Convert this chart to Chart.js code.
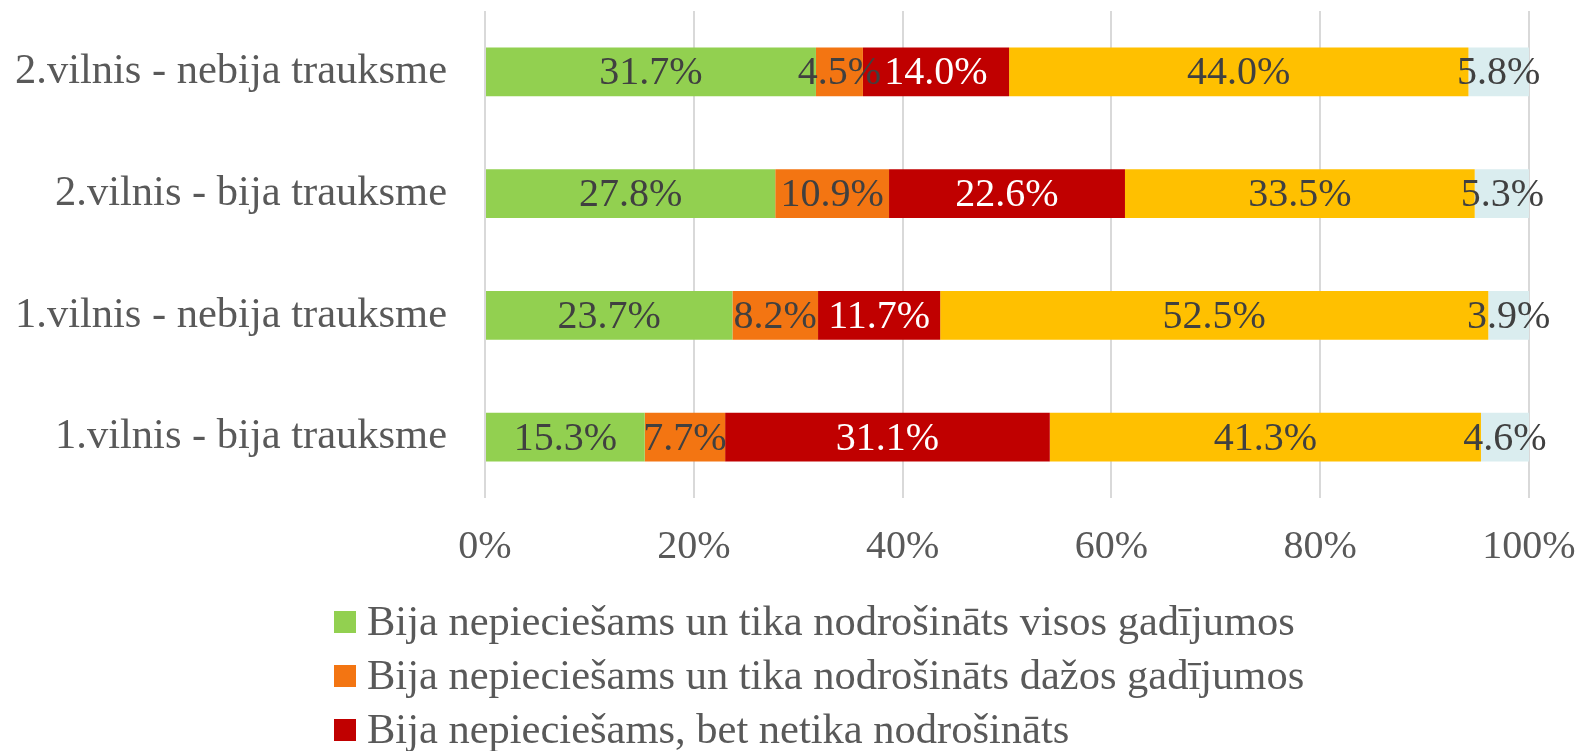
<!DOCTYPE html>
<html>
<head>
<meta charset="utf-8">
<script src="https://cdn.jsdelivr.net/npm/chart.js@4.4.1/dist/chart.umd.min.js"></script>
<style>
    html, body { margin: 0; padding: 0; background: #fff; }
    #wrap { width: 1579px; height: 751px; }
</style>
</head>
<body>
<div id="wrap"><canvas id="surveyChart"></canvas></div>
<script>
// kategorijas (no augšas uz leju)
const categories = [
    '2.vilnis - nebija trauksme',
    '2.vilnis - bija trauksme',
    '1.vilnis - nebija trauksme',
    '1.vilnis - bija trauksme'
];
const seriesNames = [
    'Bija nepieciešams un tika nodrošināts visos gadījumos',
    'Bija nepieciešams un tika nodrošināts dažos gadījumos',
    'Bija nepieciešams, bet netika nodrošināts',
    'Nebija nepieciešams',
    'Grūti pateikt'
];
const visosValues  = [31.7, 27.8, 23.7, 15.3];
const dazosValues  = [4.5, 10.9, 8.2, 7.7];
const netikaValues = [14.0, 22.6, 11.7, 31.1];
const nebijaValues = [44.0, 33.5, 52.5, 41.3];
const grutiValues  = [5.8, 5.3, 3.9, 4.6];
const xTicks = [0, 20, 40, 60, 80, 100];

const seriesColors = ['#92D050', '#F37512', '#C00000', '#FFC000', '#DAEDEF'];
const labelColors  = ['#404040', '#404040', '#FFFFFF', '#404040', '#404040'];
const FONT = '"Liberation Serif", "Times New Roman", serif';

// vērtību teksti segmentu vidū
const valueLabels = {
    id: 'valueLabels',
    afterDatasetsDraw(chart) {
        const ctx = chart.ctx;
        ctx.save();
        ctx.font = '40px ' + FONT;
        ctx.textAlign = 'center';
        ctx.textBaseline = 'middle';
        chart.data.datasets.forEach((ds, i) => {
            const meta = chart.getDatasetMeta(i);
            meta.data.forEach((bar, j) => {
                const p = bar.getProps(['x', 'y', 'base'], true);
                ctx.fillStyle = labelColors[i];
                ctx.fillText(ds.data[j].toFixed(1) + '%', (p.x + p.base) / 2, p.y + 2);
            });
        });
        ctx.restore();
    }
};

// leģenda vienā kolonnā
const columnLegend = {
    id: 'columnLegend',
    afterDraw(chart) {
        const ctx = chart.ctx;
        const top = chart.scales.x.bottom;
        ctx.save();
        ctx.font = '42.5px ' + FONT;
        ctx.textAlign = 'left';
        ctx.textBaseline = 'middle';
        chart.data.datasets.forEach((ds, i) => {
            const cy = top + 51 + i * 54;
            ctx.fillStyle = ds.backgroundColor;
            ctx.fillRect(334, cy - 11, 22, 22);
            ctx.fillStyle = '#595959';
            ctx.fillText(ds.label, 367, cy + 2);
        });
        ctx.restore();
    }
};

const valueSets = [visosValues, dazosValues, netikaValues, nebijaValues, grutiValues];

const surveyChartCtx = document.getElementById('surveyChart').getContext('2d');
const surveyChart = new Chart(surveyChartCtx, {
    type: 'bar',
    data: {
        labels: categories,
        datasets: valueSets.map((vals, i) => ({
            label: seriesNames[i],
            data: vals,
            backgroundColor: seriesColors[i],
            borderWidth: 0,
            barPercentage: 0.4,
            categoryPercentage: 1
        }))
    },
    options: {
        indexAxis: 'y',
        responsive: true,
        maintainAspectRatio: false,
        animation: false,
        layout: {
            padding: { top: 11, left: 0, right: 50, bottom: 180 }
        },
        plugins: {
            legend: { display: false },
            tooltip: { enabled: false }
        },
        scales: {
            x: {
                stacked: true,
                min: 0,
                max: 100,
                afterBuildTicks: (axis) => {
                    axis.ticks = xTicks.map(v => ({ value: v }));
                },
                afterFit: (axis) => {
                    axis.height = 73;
                    axis.paddingLeft = 0;
                    axis.paddingRight = 0;
                },
                ticks: {
                    color: '#595959',
                    font: { family: FONT, size: 40 },
                    padding: 25,
                    callback: (v) => v + '%'
                },
                grid: {
                    color: '#D9D9D9',
                    lineWidth: 2,
                    drawTicks: false
                },
                border: { display: false }
            },
            y: {
                stacked: true,
                afterFit: (axis) => {
                    axis.width = 485;
                    axis.paddingTop = 0;
                    axis.paddingBottom = 0;
                },
                ticks: {
                    color: '#595959',
                    font: { family: FONT, size: 42.5 },
                    padding: 30
                },
                grid: { display: false },
                border: { display: false }
            }
        }
    },
    plugins: [valueLabels, columnLegend]
});
</script>
</body>
</html>
